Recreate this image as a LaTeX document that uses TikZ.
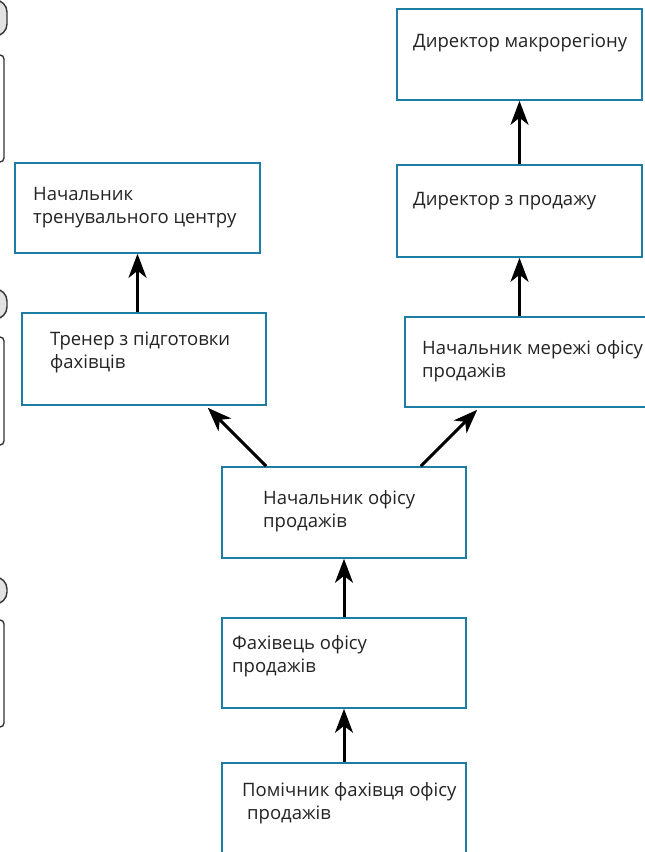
\documentclass[tikz,border=0pt]{standalone}
\usepackage{fontspec}
\setmainfont{Open Sans}
\usetikzlibrary{arrows.meta}
\definecolor{Box_line}{RGB}{30,125,165}
\definecolor{Side_fill}{RGB}{226,226,226}
\definecolor{Text_dark}{RGB}{35,35,35}

\tikzset{
  post/.style={draw=Box_line, line width=1.6pt, fill=white, minimum width=245pt, minimum height=91pt, inner sep=0pt},
  post_text/.style={anchor=base west, align=left, inner sep=0pt, text=Text_dark, font=\fontsize{18.5}{22.5}\selectfont},
  up_arrow/.style={line width=3pt, -{Stealth[length=24pt,width=18pt,inset=7pt]}},
  side_shape/.style={draw=black!80, line width=1.4pt, fill=Side_fill}
}

\begin{document}
\begin{tikzpicture}[x=1pt,y=-1pt]
    \useasboundingbox (0,0) rectangle (645,852);
    \clip (0,0) rectangle (645,852);

    %% Cut-off shapes at the left edge
    \draw[side_shape, rounded corners=12pt] (-60,0) rectangle (7,36);
    \draw[side_shape, fill=white, rounded corners=4pt] (-60,55) rectangle (4,162);
    \draw[side_shape, rounded corners=12pt] (-60,289) rectangle (7,319);
    \draw[side_shape, fill=white, rounded corners=4pt] (-60,337) rectangle (4,445);
    \draw[side_shape, rounded corners=12pt] (-60,577) rectangle (7,604);
    \draw[side_shape, fill=white, rounded corners=4pt] (-60,620) rectangle (4,727);

    %% Posts
    \node[post] (macro) at (519.5,54.5) {};
    \node[post, minimum height=92pt] (sales) at (519.5,211) {};
    \node[post, minimum height=90pt] (netchief) at (527.5,362) {};
    \node[post, minimum height=90pt] (trainchief) at (137.5,208) {};
    \node[post, minimum width=244pt, minimum height=92pt] (trainer) at (144,359) {};
    \node[post, minimum width=244pt] (office) at (344,512.5) {};
    \node[post, minimum width=244pt, minimum height=90pt] (spec) at (344,663) {};
    \node[post, minimum width=244pt, minimum height=92pt] (assist) at (344,809) {};

    %% Texts (anchored at the baseline of the last line)
    \node[post_text] (macro_t) at (413,47) {Директор макрорегіону};
    \node[post_text] (sales_t) at (413,205) {Директор з продажу};
    \node[post_text] (netchief_t) at (422,377) {Начальник мережі офісу\\продажів};
    \node[post_text] (trainchief_t) at (33,223) {Начальник\\тренувального центру};
    \node[post_text] (trainer_t) at (50,368) {Тренер з підготовки\\фахівців};
    \node[post_text] (office_t) at (263,527) {Начальник офісу\\продажів};
    \node[post_text] (spec_t) at (232,672) {Фахівець офісу\\продажів};
    \node[post_text] (assist_t) at (242,819) {Помічник фахівця офісу\\\hspace{5pt}продажів};

    %% Arrows
    \draw[up_arrow] (sales.north) -- (macro.south);
    \draw[up_arrow] (netchief.north -| sales.south) -- (sales.south);
    \draw[up_arrow] (trainer.north -| trainchief.south) -- (trainchief.south);
    \draw[up_arrow] ([xshift=45pt]office.north west) -- ([xshift=-59pt,yshift=-2pt]trainer.south east);
    \draw[up_arrow] ([xshift=-46pt]office.north east) -- ([xshift=73pt,yshift=-2pt]netchief.south west);
    \draw[up_arrow] (spec.north) -- (office.south);
    \draw[up_arrow] (assist.north) -- (spec.south);
\end{tikzpicture}
\end{document}
